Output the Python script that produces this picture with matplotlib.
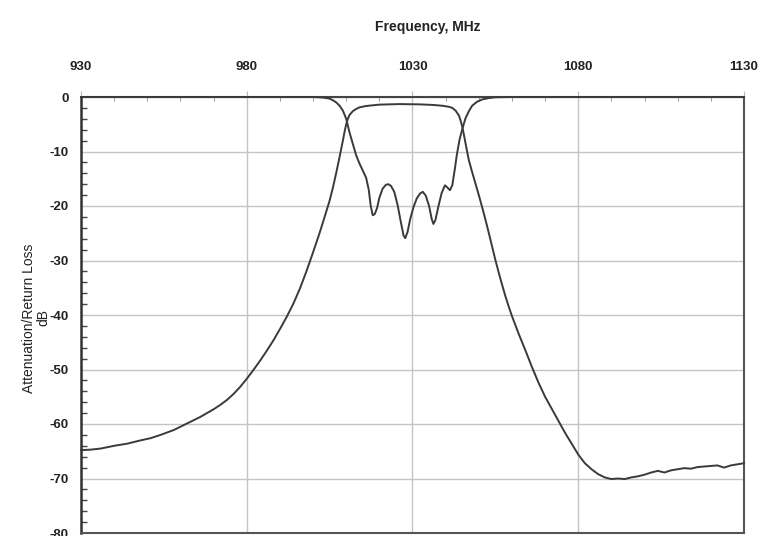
import matplotlib
matplotlib.use("Agg")
import matplotlib.pyplot as plt
from matplotlib.ticker import MultipleLocator

plt.rcParams['font.family'] = ['Liberation Sans', 'DejaVu Sans']

# Insertion loss (attenuation) curve
att_freq = [930, 933, 936, 940, 944, 948, 951, 954, 958, 961, 963, 966, 968, 970, 972, 974,
            976, 978, 980, 982, 984, 986, 988, 990, 992, 994, 996, 998, 1000, 1002, 1004,
            1005, 1006, 1007, 1008, 1009, 1009.5, 1010, 1010.5, 1011, 1012, 1013, 1014, 1016,
            1020, 1026, 1032, 1036, 1039, 1041, 1042, 1043, 1044, 1044.5, 1045, 1045.5, 1046,
            1046.5, 1047, 1048, 1049, 1050, 1051, 1052, 1053, 1054, 1055, 1056, 1057, 1058,
            1059, 1060, 1062, 1064, 1066, 1068, 1070, 1072, 1074, 1076, 1078, 1080, 1082,
            1084, 1086, 1088, 1090, 1092, 1094, 1096, 1098, 1100, 1102, 1104, 1106, 1108,
            1110, 1112, 1114, 1116, 1118, 1120, 1122, 1124, 1126, 1128, 1130]
att_db = [-64.8, -64.7, -64.5, -64.0, -63.6, -63.0, -62.6, -62.0, -61.1, -60.2, -59.6, -58.7,
          -58.0, -57.3, -56.5, -55.6, -54.5, -53.2, -51.7, -50.1, -48.4, -46.6, -44.7, -42.6,
          -40.4, -38.0, -35.2, -32.0, -28.5, -24.9, -21.0, -19.0, -16.6, -13.9, -11.0, -8.0,
          -6.4, -5.0, -4.0, -3.3, -2.6, -2.2, -1.9, -1.65, -1.4, -1.3, -1.35, -1.45, -1.6,
          -1.8, -2.0, -2.5, -3.4, -4.3, -5.4, -6.9, -8.5, -10.1, -11.6, -13.8, -15.9, -18.0,
          -20.2, -22.5, -24.9, -27.4, -29.9, -32.2, -34.4, -36.5, -38.4, -40.2, -43.4, -46.4,
          -49.5, -52.4, -55.0, -57.2, -59.4, -61.6, -63.6, -65.6, -67.2, -68.3, -69.2, -69.8,
          -70.1, -70.0, -70.1, -69.8, -69.6, -69.3, -68.9, -68.6, -68.9, -68.5, -68.3, -68.1,
          -68.2, -67.9, -67.8, -67.7, -67.6, -68.0, -67.6, -67.4, -67.2]

# Return loss curve
rl_freq = [930, 1000, 1003, 1005, 1006, 1007, 1008, 1009, 1010, 1011, 1012, 1013, 1014, 1015,
           1016, 1016.8, 1017.4, 1018.0, 1018.6, 1019.3, 1020.0, 1021, 1022, 1022.7, 1023.5,
           1024.5, 1025.5, 1026.5, 1027.3, 1027.8, 1028.5, 1029.3, 1030.3, 1031.3, 1032.3,
           1033.1, 1034, 1035, 1035.8, 1036.3, 1036.9, 1037.8, 1038.8, 1039.8, 1040.5, 1041.3,
           1042, 1042.7, 1043.4, 1044.2, 1045.1, 1046, 1047, 1048, 1049.4, 1051, 1053, 1055,
           1060, 1130]
rl_db = [0, 0, -0.1, -0.3, -0.6, -1.0, -1.6, -2.5, -4.0, -6.5, -8.6, -10.7, -12.2, -13.5,
         -14.8, -17.0, -20.0, -21.7, -21.5, -20.4, -18.5, -16.8, -16.1, -16.0, -16.3, -17.4,
         -19.8, -23.0, -25.4, -25.9, -24.8, -22.4, -20.2, -18.6, -17.7, -17.4, -18.1, -20.0,
         -22.4, -23.3, -22.6, -20.1, -17.6, -16.2, -16.6, -17.1, -16.2, -13.5, -10.5, -7.8,
         -5.7, -3.9, -2.6, -1.6, -0.9, -0.45, -0.2, -0.05, 0, 0]

x_ticks = [930, 980, 1030, 1080, 1130]
y_ticks = [0, -10, -20, -30, -40, -50, -60, -70, -80]

fig = plt.figure(figsize=(7.63, 5.36), dpi=100)
ax = fig.add_axes([81 / 763, 3 / 536, (744 - 81) / 763, (533 - 97) / 536])

line_color = '#3a3a3a'
ax.plot(att_freq, att_db, color=line_color, lw=1.4, clip_on=False, zorder=3)
ax.plot(rl_freq, rl_db, color=line_color, lw=1.4, clip_on=False, zorder=3)

ax.set_xlim(930, 1130)
ax.set_ylim(-80, 0)
ax.xaxis.set_ticks_position('top')
ax.xaxis.set_label_position('top')
ax.set_xticks(x_ticks)
ax.set_yticks(y_ticks)
ax.set_xticklabels([str(t) for t in x_ticks])
ax.set_yticklabels([str(t) for t in y_ticks])
ax.xaxis.set_minor_locator(MultipleLocator(10))
ax.yaxis.set_minor_locator(MultipleLocator(2))

ax.grid(True, which='major', color='#c4c4c4', lw=1.0)
ax.set_axisbelow(True)

ax.tick_params(axis='x', which='major', direction='out', length=4, color='#bbbbbb',
               pad=13, labelsize=9.5, labelcolor='#222222')
ax.tick_params(axis='x', which='minor', direction='in', length=3, color='#888888')
ax.tick_params(axis='y', which='major', direction='in', length=0, pad=9,
               labelsize=9.5, labelcolor='#222222')
ax.tick_params(axis='y', which='minor', direction='in', length=4, width=1.0, color='#444444')
for lab in ax.get_xticklabels() + ax.get_yticklabels():
    lab.set_fontweight('bold')

ax.spines['left'].set_color('#333333')
ax.spines['left'].set_linewidth(1.8)
ax.spines['bottom'].set_color('#555555')
ax.spines['bottom'].set_linewidth(1.5)
ax.spines['right'].set_color('#555555')
ax.spines['right'].set_linewidth(1.5)
ax.spines['top'].set_color('#444444')
ax.spines['top'].set_linewidth(1.5)

fig.text(428 / 763, 1 - 27 / 536, 'Frequency, MHz', ha='center', va='center',
         fontsize=10, fontweight='bold', color='#222222')
fig.text(36 / 763, 1 - 318 / 536, 'Attenuation/Return Loss\ndB', ha='center', va='center',
         rotation=90, fontsize=10, linespacing=1.0, color='#222222', multialignment='center')

fig.savefig('out.png', dpi=100)
